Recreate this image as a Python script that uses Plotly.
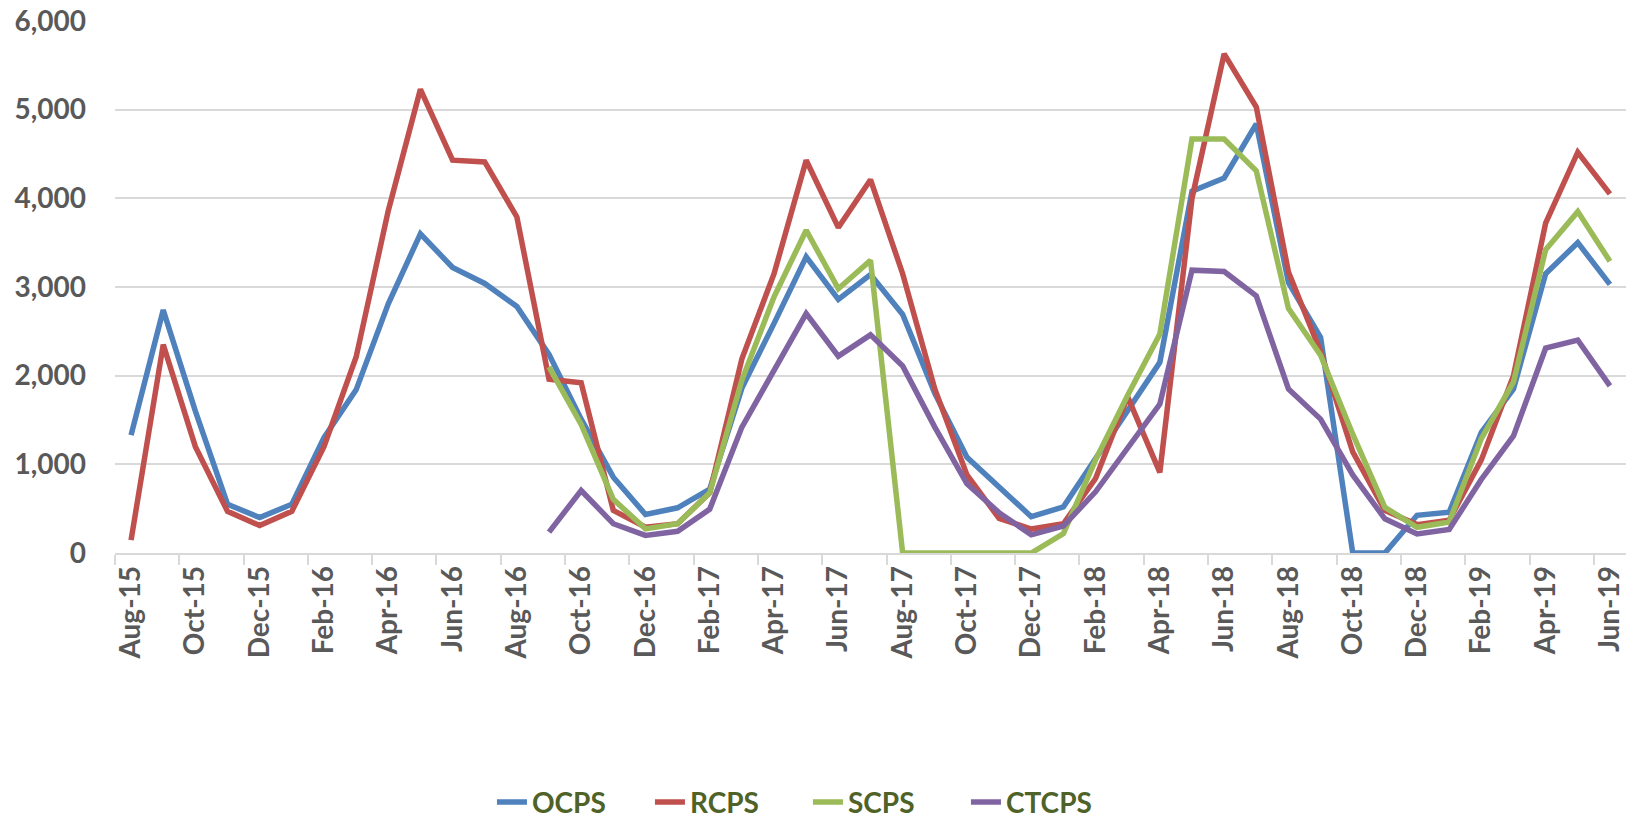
import plotly.graph_objects as go

months = ["Aug-15", "Sep-15", "Oct-15", "Nov-15", "Dec-15", "Jan-16", "Feb-16", "Mar-16",
          "Apr-16", "May-16", "Jun-16", "Jul-16", "Aug-16", "Sep-16", "Oct-16", "Nov-16",
          "Dec-16", "Jan-17", "Feb-17", "Mar-17", "Apr-17", "May-17", "Jun-17", "Jul-17",
          "Aug-17", "Sep-17", "Oct-17", "Nov-17", "Dec-17", "Jan-18", "Feb-18", "Mar-18",
          "Apr-18", "May-18", "Jun-18", "Jul-18", "Aug-18", "Sep-18", "Oct-18", "Nov-18",
          "Dec-18", "Jan-19", "Feb-19", "Mar-19", "Apr-19", "May-19", "Jun-19"]

ocps = [1330, 2740, 1600, 550, 400, 550, 1300, 1840, 2810, 3600, 3220, 3040, 2780, 2240,
        1510, 855, 435, 510, 720, 1860, 2590, 3340, 2860, 3140, 2690, 1800, 1080, 740, 410,
        520, 1070, 1600, 2150, 4080, 4230, 4840, 3050, 2430, 0, 0, 425, 460, 1360, 1850,
        3150, 3500, 3030]

rcps = [145, 2350, 1200, 470, 310, 470, 1200, 2210, 3860, 5230, 4430, 4410, 3790, 1960,
        1920, 480, 290, 330, 680, 2190, 3150, 4430, 3670, 4210, 3150, 1850, 880, 390, 270,
        330, 840, 1760, 910, 4000, 5630, 5030, 3170, 2270, 1140, 480, 320, 370, 1050, 2000,
        3720, 4520, 4050]

scps = [None] * 13 + [2100, 1450, 605, 272, 330, 680, 1950, 2890, 3640, 2980, 3300, 0, 0,
                      0, 0, 0, 220, 1050, 1780, 2470, 4670, 4670, 4310, 2760, 2230, 1340,
                      515, 290, 350, 1290, 1930, 3420, 3850, 3290]

ctcps = [None] * 13 + [235, 705, 330, 198, 245, 495, 1420, 2050, 2700, 2220, 2460, 2110,
                       1420, 780, 455, 205, 305, 690, 1190, 1680, 3190, 3175, 2900, 1850,
                       1510, 880, 385, 215, 265, 830, 1320, 2310, 2400, 1885]

series = [("OCPS", ocps, "#4F81BD"), ("RCPS", rcps, "#C0504D"),
          ("SCPS", scps, "#9BBB59"), ("CTCPS", ctcps, "#8064A2")]

fig = go.Figure()
for name, vals, color in series:
    fig.add_trace(go.Scatter(x=months, y=vals, name=name, mode="lines",
                             line=dict(color=color, width=5.5), connectgaps=False))

tick_font = dict(family="Lato", size=28, color="#595959", weight="bold")

fig.update_layout(
    width=1629, height=823,
    margin=dict(l=115, r=3, t=21, b=270),
    paper_bgcolor="white", plot_bgcolor="white",
    showlegend=True,
    legend=dict(orientation="h", xref="container", yref="container",
                x=0.302, xanchor="left", y=0.025, yanchor="middle",
                font=dict(family="Lato", size=28, color="#4F6228", weight="bold"),
                entrywidth=113, entrywidthmode="pixels"),
    xaxis=dict(type="category", categoryorder="array", categoryarray=months,
               range=[-0.5, len(months) - 0.5], dtick=2, tick0=0,
               tickson="boundaries", ticks="outside", ticklen=10, tickwidth=1.5,
               tickcolor="#D9D9D9", showgrid=False, showline=True, linecolor="#D9D9D9",
               linewidth=1.5, tickangle=-90, tickfont=tick_font),
    yaxis=dict(range=[0, 6000], dtick=1000, tickformat=",", showgrid=True,
               gridcolor="#D9D9D9", gridwidth=1.5, zeroline=False, showline=False,
               ticks="", tickfont=tick_font, ticklabelstandoff=28),
)

fig.write_html("out.html", config={"displayModeBar": False},
               post_script="document.body.style.margin='0';")
